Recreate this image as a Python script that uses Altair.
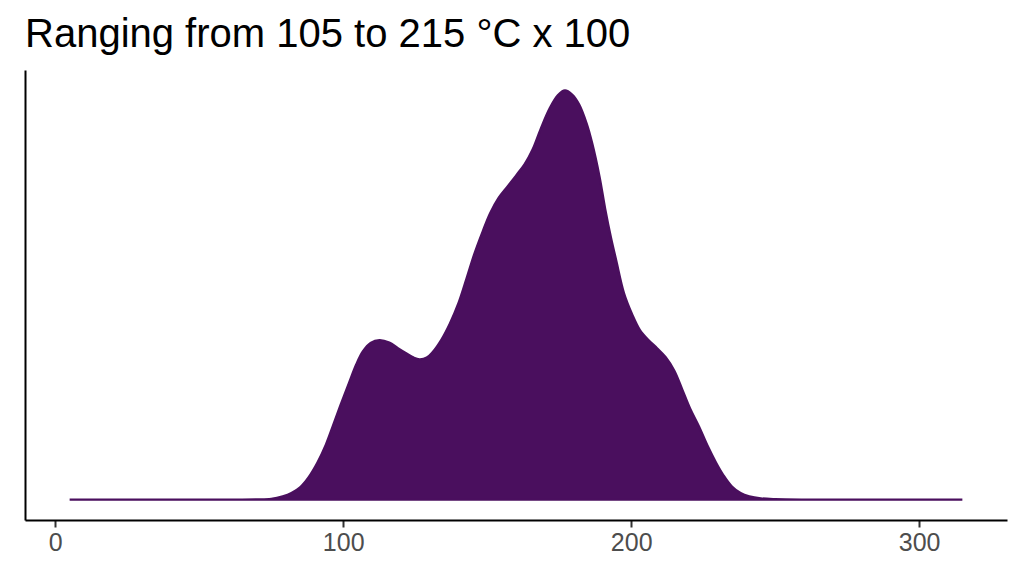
import altair as alt
import pandas as pd

# temperature grid and relative density
temp = [5, 40, 60, 70, 75, 79, 82, 85, 88, 91, 94, 96.4, 99, 102, 104.5, 106.8, 109.5, 112.6,
        116, 119, 122, 124.5, 126.5, 129, 131, 134, 137, 140, 142.8, 145.5, 148.4, 151, 154,
        157, 160, 163, 165.7, 168.5, 171.6, 174.5, 177, 179.5, 182, 184.5, 186.5, 189, 191,
        193, 194.8, 197.5, 200.4, 203, 206, 209, 212, 215, 217.7, 220.5, 223.6, 226.5, 229.5,
        232, 235, 238, 241, 245, 250, 260, 280, 315]
density = [0, 0, 0, 0.0005, 0.002, 0.008, 0.016, 0.03, 0.055, 0.09, 0.135, 0.18, 0.23, 0.285,
           0.33, 0.362, 0.383, 0.39, 0.384, 0.37, 0.357, 0.347, 0.343, 0.347, 0.36, 0.39, 0.43,
           0.48, 0.54, 0.6, 0.655, 0.7, 0.738, 0.765, 0.792, 0.82, 0.855, 0.905, 0.955, 0.988,
           1.0, 0.99, 0.965, 0.92, 0.87, 0.79, 0.71, 0.64, 0.585, 0.505, 0.452, 0.415, 0.39,
           0.37, 0.348, 0.315, 0.27, 0.222, 0.178, 0.132, 0.09, 0.06, 0.032, 0.016, 0.008,
           0.003, 0.001, 0, 0, 0]

df = pd.DataFrame({"temp": temp, "density": density})

fill = "#4A0F5E"

area = alt.Chart(df).mark_area(
    interpolate="catmull-rom", color=fill, stroke=fill, strokeWidth=2.2, opacity=1
).encode(
    x=alt.X("temp:Q",
            scale=alt.Scale(domain=[-10.5, 330.5], nice=False, zero=False),
            axis=alt.Axis(values=[0, 100, 200, 300], title=None, grid=False,
                          domainColor="black", domainWidth=2,
                          tickColor="#333333", tickWidth=2, tickSize=7,
                          labelColor="#4D4D4D", labelFontSize=25, labelPadding=3,
                          labelFont="Liberation Sans")),
    y=alt.Y("density:Q",
            scale=alt.Scale(domain=[-0.05, 1.05], nice=False, zero=False),
            axis=alt.Axis(title=None, labels=False, ticks=False, grid=False,
                          domainColor="black", domainWidth=2)),
)

chart = area.properties(
    width=982,
    height=450,
    background="white",
    autosize=alt.AutoSizeParams(type="none"),
    padding={"left": 17, "top": 62, "right": 9, "bottom": 48},
    title=alt.TitleParams(
        "Ranging from 105 to 215 °C x 100",
        anchor="start", frame="group", font="Liberation Sans", fontSize=40,
        fontWeight="normal", color="black", baseline="alphabetic", offset=-17,
    ),
).configure_view(stroke=None, strokeWidth=0)

chart.save("out.html", embed_options={"renderer": "svg", "actions": False})
